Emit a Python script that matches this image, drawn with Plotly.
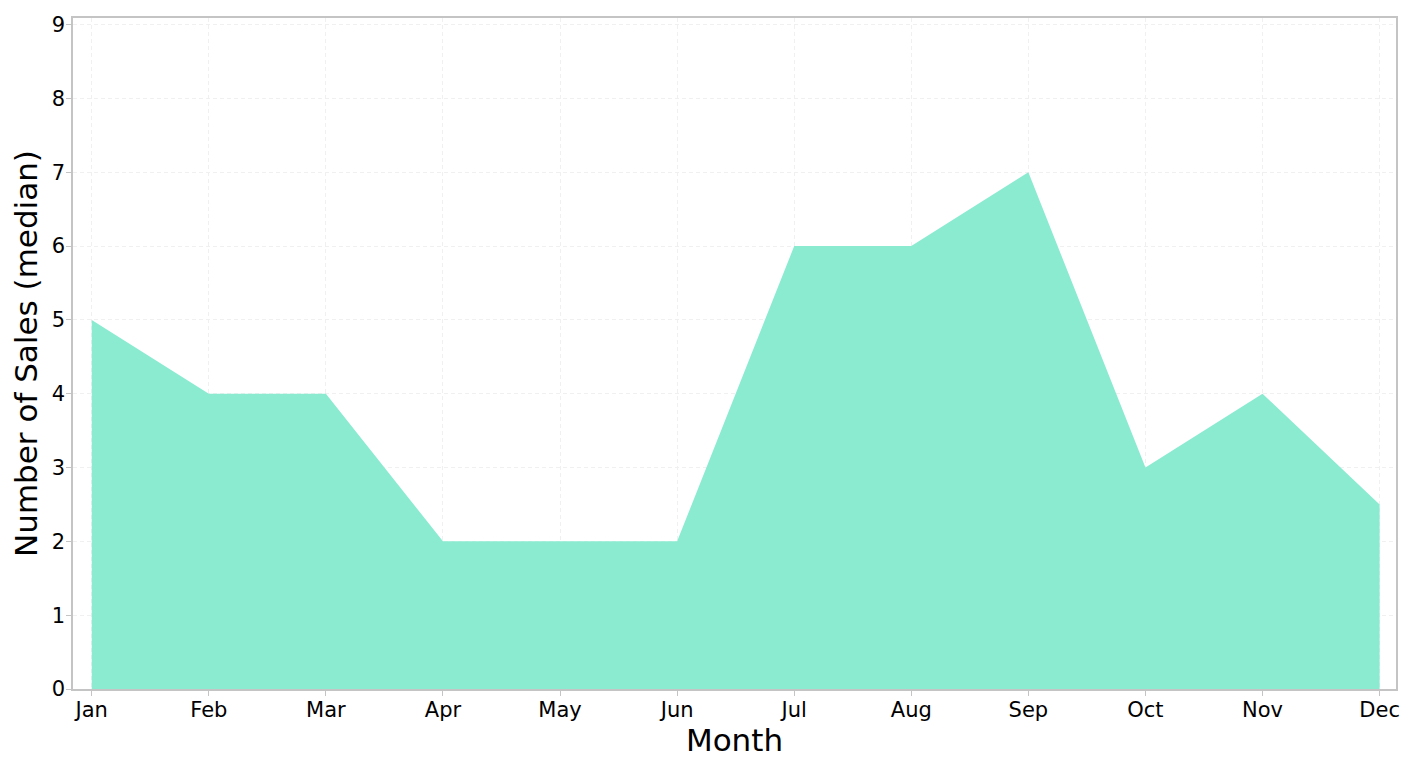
import plotly.graph_objects as go

months = ['Jan', 'Feb', 'Mar', 'Apr', 'May', 'Jun', 'Jul', 'Aug', 'Sep', 'Oct', 'Nov', 'Dec']
sales_median = [5, 4, 4, 2, 2, 2, 6, 6, 7, 3, 4, 2.5]

x_idx = list(range(len(months)))

fig = go.Figure()
fig.add_trace(go.Scatter(x=x_idx, y=sales_median, mode='lines', fill='tozeroy',
                         fillcolor='#8AEBD0', line=dict(width=0, color='#8AEBD0'),
                         showlegend=False, hoverinfo='y'))

axis_style = dict(showline=True, linecolor='#c4c4c4', linewidth=1.5, mirror=True,
                  showgrid=True, gridcolor='#f0f0f0', griddash='4px,3px', gridwidth=1,
                  ticks='outside', ticklen=5, tickcolor='#c4c4c4', zeroline=False,
                  tickfont=dict(size=21, color='black'))

# figure sits 8px in from the page corner, so it is made 8px smaller to fit the window
fig.update_layout(
    width=1415, height=750,
    paper_bgcolor='white', plot_bgcolor='white',
    margin=dict(l=65, r=27, t=5, b=69),
    font=dict(family='DejaVu Sans', color='black'),
    xaxis=dict(tickmode='array', tickvals=x_idx, ticktext=months, range=[-0.16, 11.14],
               ticklabelstandoff=-4,
               title=dict(text='Month', font=dict(size=31), standoff=9), **axis_style),
    yaxis=dict(range=[0, 9.09], dtick=1, ticklabelstandoff=-3,
               title=dict(text='Number of Sales (median)', font=dict(size=31), standoff=8), **axis_style),
)

fig.write_html("out.html")
